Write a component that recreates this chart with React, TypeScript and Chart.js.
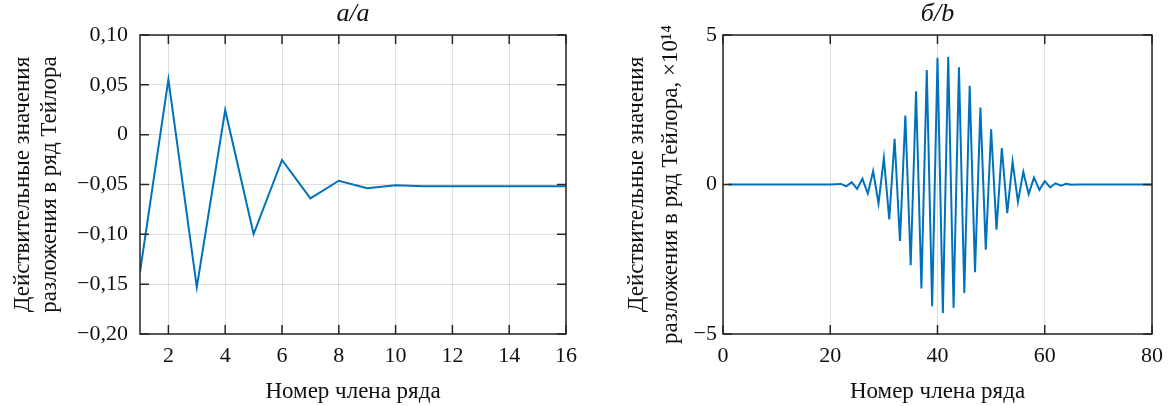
import React, { useEffect, useRef } from "react";
import { Chart, registerables } from "chart.js";

Chart.register(...registerables);

// ---------- data: chart a ----------
const termsA = [1, 2, 3, 4, 5, 6, 7, 8, 9, 10, 11, 12, 13, 14, 15, 16];
const valuesA = [
  -0.138, 0.0555, -0.153, 0.0247, -0.0997, -0.0254, -0.0639, -0.0462,
  -0.0538, -0.0508, -0.0518, -0.0517, -0.0517, -0.0517, -0.0517, -0.0517,
];
const xTicksA = [2, 4, 6, 8, 10, 12, 14, 16];
const yTicksA = [-0.2, -0.15, -0.1, -0.05, 0, 0.05, 0.1];
const yTickLabelsA = ["−0,20", "−0,15", "−0,10", "−0,05", "0", "0,05", "0,10"];

// ---------- data: chart b (×10^14) ----------
const valuesB = [
  0, 0, 0, 0, 0, 0, 0, 0, 0, 0,
  0, 0, 0, 0, 0, 0, 0, 0, 0, 0,
  0.01, 0.02, -0.06, 0.08, -0.15, 0.19, -0.3, 0.45, -0.64, 0.89,
  -1.17, 1.53, -1.89, 2.31, -2.7, 3.12, -3.48, 3.83, -4.07, 4.24,
  -4.3, 4.27, -4.12, 3.92, -3.63, 3.3, -2.93, 2.57, -2.18, 1.85,
  -1.51, 1.22, -0.96, 0.76, -0.58, 0.42, -0.32, 0.23, -0.18, 0.11,
  -0.1, 0.04, -0.04, 0.02, -0.01, 0, 0, 0, 0, 0,
  0, 0, 0, 0, 0, 0, 0, 0, 0, 0,
];
const termsB = valuesB.map((_, i) => i + 1);
const xTicksB = [0, 20, 40, 60, 80];
const yTicksB = [-5, 0, 5];
const yTickLabelsB = ["−5", "0", "5"];

const titleA = "а/a";
const titleB = "б/b";
const xTitle = "Номер члена ряда";
const yTitleA = ["Действительные значения", "разложения в ряд Тейлора"];
const yTitleB = ["Действительные значения", "разложения в ряд Тейлора, ×10¹⁴"];

const FONT = "'Liberation Serif', 'Times New Roman', serif";
const TEXT = "#111111";
const AXIS = "#262626";
const GRID = "rgba(38,38,38,0.15)";
const LINE = "#0072BD";

const framePlugin = {
  id: "matlabFrame",
  afterDatasetsDraw(chart: any) {
    const { ctx, chartArea: a, scales } = chart;
    const L = 9;
    ctx.save();
    ctx.strokeStyle = AXIS;
    ctx.lineWidth = 1.5;
    ctx.beginPath();
    for (const t of scales.x.ticks) {
      const p = scales.x.getPixelForValue(t.value);
      ctx.moveTo(p, a.bottom);
      ctx.lineTo(p, a.bottom - L);
      ctx.moveTo(p, a.top);
      ctx.lineTo(p, a.top + L);
    }
    for (const t of scales.y.ticks) {
      const p = scales.y.getPixelForValue(t.value);
      ctx.moveTo(a.left, p);
      ctx.lineTo(a.left + L, p);
      ctx.moveTo(a.right, p);
      ctx.lineTo(a.right - L, p);
    }
    ctx.stroke();
    ctx.strokeRect(a.left, a.top, a.right - a.left, a.bottom - a.top);
    ctx.restore();
  },
};

type Cfg = {
  xs: number[];
  ys: number[];
  xMin: number;
  xMax: number;
  xTicks: number[];
  yMin: number;
  yMax: number;
  yTicks: number[];
  yLabels: string[];
  title: string;
  yTitle: string[];
  yWidth: number;
  yTickPad: number;
  yTitlePad: number;
  yTitleLH: number;
};

function makeConfig(c: Cfg): any {
  return {
    type: "line",
    data: {
      datasets: [
        {
          data: c.xs.map((x, i) => ({ x, y: c.ys[i] })),
          borderColor: LINE,
          borderWidth: 2,
          pointRadius: 0,
          tension: 0,
          fill: false,
        },
      ],
    },
    options: {
      animation: false,
      responsive: false,
      devicePixelRatio: 1,
      events: [],
      layout: { padding: { left: 0, right: 20, top: 0, bottom: 0 } },
      plugins: {
        legend: { display: false },
        tooltip: { enabled: false },
        title: {
          display: true,
          fullSize: false,
          text: c.title,
          color: TEXT,
          font: { family: FONT, size: 26, style: "italic", weight: "normal", lineHeight: 1.0 },
          padding: { top: 1, bottom: 8 },
        },
      },
      scales: {
        x: {
          type: "linear",
          min: c.xMin,
          max: c.xMax,
          afterBuildTicks: (s: any) => {
            s.ticks = c.xTicks.map((v) => ({ value: v }));
          },
          afterFit: (s: any) => {
            s.height = 72;
          },
          grid: { color: GRID, lineWidth: 1, drawTicks: false },
          border: { display: false },
          ticks: {
            color: TEXT,
            padding: 9,
            maxRotation: 0,
            autoSkip: false,
            font: { family: FONT, size: 22, lineHeight: 1.2 },
            callback: (v: any) => String(v),
          },
          title: {
            display: true,
            text: xTitle,
            color: TEXT,
            font: { family: FONT, size: 23, lineHeight: 1.2 },
            padding: { top: 0, bottom: 0.5 },
          },
        },
        y: {
          type: "linear",
          min: c.yMin,
          max: c.yMax,
          afterBuildTicks: (s: any) => {
            s.ticks = c.yTicks.map((v) => ({ value: v }));
          },
          afterFit: (s: any) => {
            s.width = c.yWidth;
          },
          grid: { color: GRID, lineWidth: 1, drawTicks: false },
          border: { display: false },
          ticks: {
            color: TEXT,
            padding: c.yTickPad,
            autoSkip: false,
            font: { family: FONT, size: 22, lineHeight: 1.2 },
            callback: (v: any) => {
              const i = c.yTicks.indexOf(v);
              return i >= 0 ? c.yLabels[i] : "";
            },
          },
          title: {
            display: true,
            text: c.yTitle,
            color: TEXT,
            font: { family: FONT, size: 23, lineHeight: c.yTitleLH / 23 },
            padding: { top: c.yTitlePad, bottom: 0 },
          },
        },
      },
    },
    plugins: [framePlugin],
  };
}

function Panel({ cfg, left }: { cfg: Cfg; left: number }) {
  const ref = useRef<HTMLCanvasElement | null>(null);
  useEffect(() => {
    if (!ref.current) return;
    const chart = new Chart(ref.current, makeConfig(cfg));
    return () => chart.destroy();
  }, [cfg]);
  return (
    <canvas
      ref={ref}
      width={586}
      height={406}
      style={{ position: "absolute", left, top: 0, width: 586, height: 406 }}
    />
  );
}

const cfgA: Cfg = {
  xs: termsA,
  ys: valuesA,
  xMin: 1,
  xMax: 16,
  xTicks: xTicksA,
  yMin: -0.2,
  yMax: 0.1,
  yTicks: yTicksA,
  yLabels: yTickLabelsA,
  title: titleA,
  yTitle: yTitleA,
  yWidth: 140,
  yTickPad: 12,
  yTitlePad: 9.5,
  yTitleLH: 27,
};

const cfgB: Cfg = {
  xs: termsB,
  ys: valuesB,
  xMin: 0,
  xMax: 80,
  xTicks: xTicksB,
  yMin: -5,
  yMax: 5,
  yTicks: yTicksB,
  yLabels: yTickLabelsB,
  title: titleB,
  yTitle: yTitleB,
  yWidth: 137,
  yTickPad: 6,
  yTitlePad: 33.7,
  yTitleLH: 34,
};

export default function App() {
  return (
    <div style={{ position: "absolute", left: 0, top: 0, width: 1172, height: 406, background: "#fff" }}>
      <Panel cfg={cfgA} left={0} />
      <Panel cfg={cfgB} left={586} />
    </div>
  );
}
